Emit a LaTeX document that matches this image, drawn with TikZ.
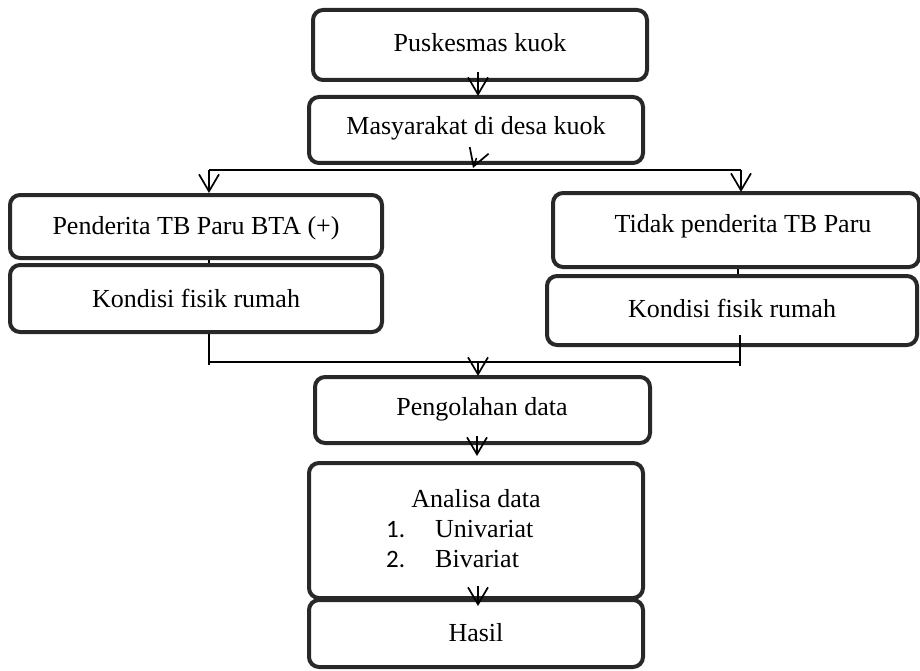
\documentclass[tikz,border=0pt]{standalone}
\usepackage{fontspec}
\setmainfont{Liberation Serif}
\newfontfamily\calfont{Carlito}
\usetikzlibrary{arrows.meta}
\definecolor{boxline}{RGB}{40,40,40}
\begin{document}
\begin{tikzpicture}[x=1pt,y=-1pt,
  box/.style={draw=boxline, line width=4pt, rounded corners=10pt, rectangle, inner sep=0pt},
  lbl/.style={font=\fontsize{26}{30}\selectfont, inner sep=0pt},
  conn/.style={line width=1.5pt, draw=black},
  arr/.style={conn, -{Straight Barb[length=17pt,width=20pt,line width=1.7pt]}}]
\useasboundingbox (0,0) rectangle (920,671);
\clip (0,0) rectangle (920,671);
% boxes
\node[box, minimum width=334pt, minimum height=70pt] (pusk) at (480,45) {};
\node[box, minimum width=334pt, minimum height=66pt] (masy) at (476,130) {};
\node[box, minimum width=372pt, minimum height=63pt] (pen) at (196,226.5) {};
\node[box, minimum width=372pt, minimum height=67pt] (kon1) at (196,298.5) {};
\node[box, minimum width=366pt, minimum height=74pt] (tidak) at (736,230) {};
\node[box, minimum width=370pt, minimum height=69pt] (kon2) at (732,310.5) {};
\node[box, minimum width=335pt, minimum height=66pt] (peng) at (482.5,410) {};
\node[box, minimum width=334pt, minimum height=135pt] (anal) at (476,530.5) {};
\node[box, minimum width=334pt, minimum height=67pt] (hasil) at (476,633.5) {};
% labels
\node[lbl] (tpusk) at (480,43) {Puskesmas kuok};
\node[lbl] (tmasy) at (476,128) {Masyarakat di desa kuok};
\node[lbl] (tpen) at (196,228) {Penderita TB Paru BTA (+)};
\node[lbl] (tkon1) at (196,298) {Kondisi fisik rumah};
\node[lbl] (ttidak) at (743,226) {Tidak penderita TB Paru};
\node[lbl] (tkon2) at (732,308) {Kondisi fisik rumah};
\node[lbl] (tpeng) at (482,409) {Pengolahan data};
\node[lbl] (tanal) at (476,499) {Analisa data};
\node[lbl, anchor=base west] (tuni) at (435,537) {Univariat};
\node[lbl, anchor=base west] (tbiv) at (435,567) {Bivariat};
\node[lbl, font=\calfont\fontsize{25}{30}\selectfont, anchor=base west] (n1) at (386,537) {1.};
\node[lbl, font=\calfont\fontsize{25}{30}\selectfont, anchor=base west] (n2) at (386,567) {2.};
\node[lbl] (thasil) at (476,633) {Hasil};
% coordinates
\coordinate (xl) at (209,0);
\coordinate (xr) at (738,0);
\coordinate (p1s) at (478,72);
\coordinate (p1e) at (478,96);
\coordinate (m1s) at (476.5,158);
\coordinate (m1e) at (473,168);
\coordinate (topl) at (209,170);
\coordinate (topr) at (741,170);
\coordinate (tipl) at (209,193);
\coordinate (tipr) at (741,192);
\coordinate (botl) at (209,362);
\coordinate (botr) at (740,362);
\coordinate (botle) at (209,365);
\coordinate (botre) at (740,366);
\coordinate (k2in) at (740,335);
\coordinate (pgs) at (478,362);
\coordinate (pge) at (478,376);
\coordinate (ans) at (477,436);
\coordinate (ane) at (477,456);
\coordinate (hs) at (478,586);
\coordinate (he) at (478,606);
% connectors
\draw[arr] (p1s) -- (p1e);
\draw[arr] (m1s) -- (m1e);
\draw[conn] (topl) -- (topr);
\draw[arr] (topl) -- (tipl);
\draw[arr] (topr) -- (tipr);
\draw[conn] (pen.south -| xl) -- (kon1.north -| xl);
\draw[conn] (tidak.south -| xr) -- (kon2.north -| xr);
\draw[conn] (kon1.south -| xl) -- (botle);
\draw[conn] (k2in) -- (botre);
\draw[conn] (botl) -- (botr);
\draw[arr] (pgs) -- (pge);
\draw[arr] (ans) -- (ane);
\draw[arr] (hs) -- (he);
\end{tikzpicture}
\end{document}
